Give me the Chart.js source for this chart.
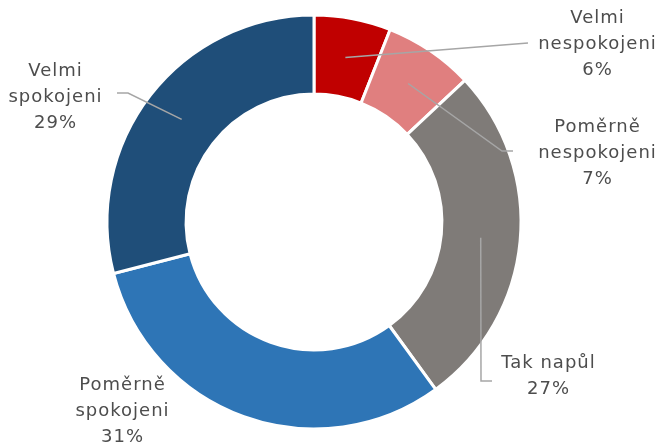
<!DOCTYPE html>
<html>
<head>
<meta charset="utf-8">
<script src="https://cdn.jsdelivr.net/npm/chart.js@4"></script>
<style>
  html, body { margin: 0; padding: 0; background: #ffffff; }
  #wrap { width: 663px; height: 448px; position: relative; }
</style>
</head>
<body>
<div id="wrap"><canvas id="c" width="663" height="448"></canvas></div>
<script>
// ---- data ----
const categories = ["Velmi nespokojeni", "Poměrně nespokojeni", "Tak napůl", "Poměrně spokojeni", "Velmi spokojeni"];
const labelLines = [["Velmi", "nespokojeni"], ["Poměrně", "nespokojeni"], ["Tak napůl"], ["Poměrně", "spokojeni"], ["Velmi", "spokojeni"]];
const values = [6, 7, 27, 31, 29];
const colors = ["#C00000", "#E07F7F", "#7F7B78", "#2E75B6", "#1F4E79"];

// ---- label layout (offsets from doughnut centre, px) ----
const labelLayout = [
  { tx: 283, ty: -178, elbow: [214, -179], end: [214, -179] },
  { tx: 283, ty: -69,  elbow: [188, -71],  end: [199, -71] },
  { tx: 234, ty: 154,  elbow: [167, 159],  end: [178, 159] },
  { tx: -192, ty: 189, elbow: null, end: null },
  { tx: -259, ty: -125, elbow: [-186, -129], end: [-197, -129] }
];

const FONT = '18px "Century Gothic", "DejaVu Sans", sans-serif';
const LINE_H = 26;

const labelPlugin = {
  id: 'outLabels',
  afterDraw(chart) {
    const ctx = chart.ctx;
    const meta = chart.getDatasetMeta(0);
    const total = values.reduce((a, b) => a + b, 0);
    ctx.save();
    meta.data.forEach((arc, i) => {
      const p = arc.getProps(['x', 'y', 'startAngle', 'endAngle', 'innerRadius', 'outerRadius'], true);
      const cx = p.x, cy = p.y;
      const mid = (p.startAngle + p.endAngle) / 2;
      const r = (p.innerRadius + p.outerRadius) / 2;
      const sx = cx + Math.cos(mid) * r;
      const sy = cy + Math.sin(mid) * r;
      const L = labelLayout[i];
      if (L.elbow) {
        ctx.beginPath();
        ctx.strokeStyle = '#A6A6A6';
        ctx.lineWidth = 1.5;
        ctx.moveTo(sx, sy);
        ctx.lineTo(cx + L.elbow[0], cy + L.elbow[1]);
        ctx.lineTo(cx + L.end[0], cy + L.end[1]);
        ctx.stroke();
      }
      const lines = labelLines[i].concat([Math.round(values[i] / total * 100) + '%']);
      ctx.font = FONT;
      ctx.letterSpacing = '1px';
      ctx.fillStyle = '#4d4d4d';
      ctx.textAlign = 'center';
      ctx.textBaseline = 'middle';
      const n = lines.length;
      const y0 = cy + L.ty - (n - 1) / 2 * LINE_H;
      lines.forEach((t, k) => ctx.fillText(t, cx + L.tx + 0.5, y0 + k * LINE_H));
    });
    ctx.restore();
  }
};

new Chart(document.getElementById('c'), {
  type: 'doughnut',
  data: {
    labels: categories,
    datasets: [{
      data: values,
      backgroundColor: colors,
      borderColor: '#ffffff',
      borderWidth: 3,
      hoverOffset: 0
    }]
  },
  options: {
    responsive: false,
    animation: false,
    radius: 207,
    cutout: 127,
    layout: { padding: { left: 0, right: 35, top: 15, bottom: 19 } },
    plugins: { legend: { display: false }, tooltip: { enabled: false } },
    events: []
  },
  plugins: [labelPlugin]
});
</script>
</body>
</html>
